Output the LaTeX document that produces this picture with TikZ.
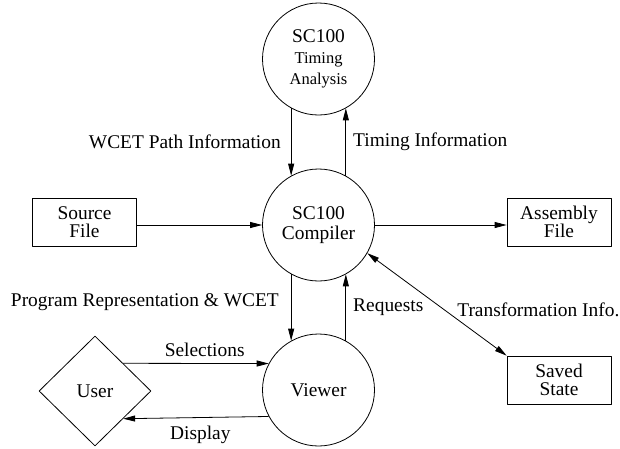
\documentclass[tikz,border=0pt]{standalone}
\usepackage{fontspec}
\setmainfont{Liberation Serif}
\usetikzlibrary{positioning,arrows.meta,shapes.geometric}

\begin{document}
\begin{tikzpicture}[x=1pt, y=-1pt, line width=0.8pt, line join=round, >={Triangle[length=12pt,width=6pt]},
	proc/.style={draw, circle, minimum size=112pt, inner sep=0pt, align=center, font=\fontsize{19.4}{20}\selectfont},
	store/.style={draw, rectangle, minimum width=104pt, minimum height=48pt, inner sep=0pt, align=center, font=\fontsize{19.4}{18}\selectfont},
	actor/.style={draw, diamond, minimum width=112pt, minimum height=110pt, inner sep=0pt, font=\fontsize{19.4}{20}\selectfont},
	lbl/.style={inner sep=0pt, font=\fontsize{19.4}{20}\selectfont}]
		\useasboundingbox (0,0) rectangle (620,448);
		% processes
		\node[proc, font=\fontsize{16.5}{21}\selectfont] (tim) at (318.5,59) {{\fontsize{19.4}{21}\selectfont SC100}\\Timing\\Analysis};
		\node[proc] (comp) at (318.5,225) {SC100\\Compiler};
		\node[proc] (view) at (318.5,390) {Viewer};
		% files and user
		\node[store] (src) at (84.5,222) {Source\\File};
		\node[store] (asm) at (559,222) {Assembly\\File};
		\node[store] (saved) at (559,380) {Saved\\State};
		\node[actor] (user) at (95,391) {User};
		% compiler <-> timing analysis
		\draw[->] (tim.241) -- node[lbl, left=10pt] {WCET Path Information} (comp.119);
		\draw[->] (comp.61) -- node[lbl, right=7pt] {Timing Information} (tim.299);
		% compiler <-> viewer
		\draw[->] (comp.241) -- node[lbl, pos=0.42, left=12pt] {Program Representation \& WCET} (view.119);
		\draw[->] (view.61) -- node[lbl, right=7pt] {Requests} (comp.299);
		% files
		\draw[->] (src.east |- comp) -- (comp);
		\draw[->] (comp) -- (asm.west |- comp);
		\draw[<->] (comp.330) -- node[lbl, pos=0.55, right=13pt] {Transformation Info.} (saved.north west);
		% user <-> viewer
		\draw[->] (user.north east) -- node[lbl, pos=0.56, above=6pt] {Selections} (view.152);
		\draw[->] (view.208) -- node[lbl, pos=0.47, below=8pt] {Display} (user.south east);
	\end{tikzpicture}
\end{document}
